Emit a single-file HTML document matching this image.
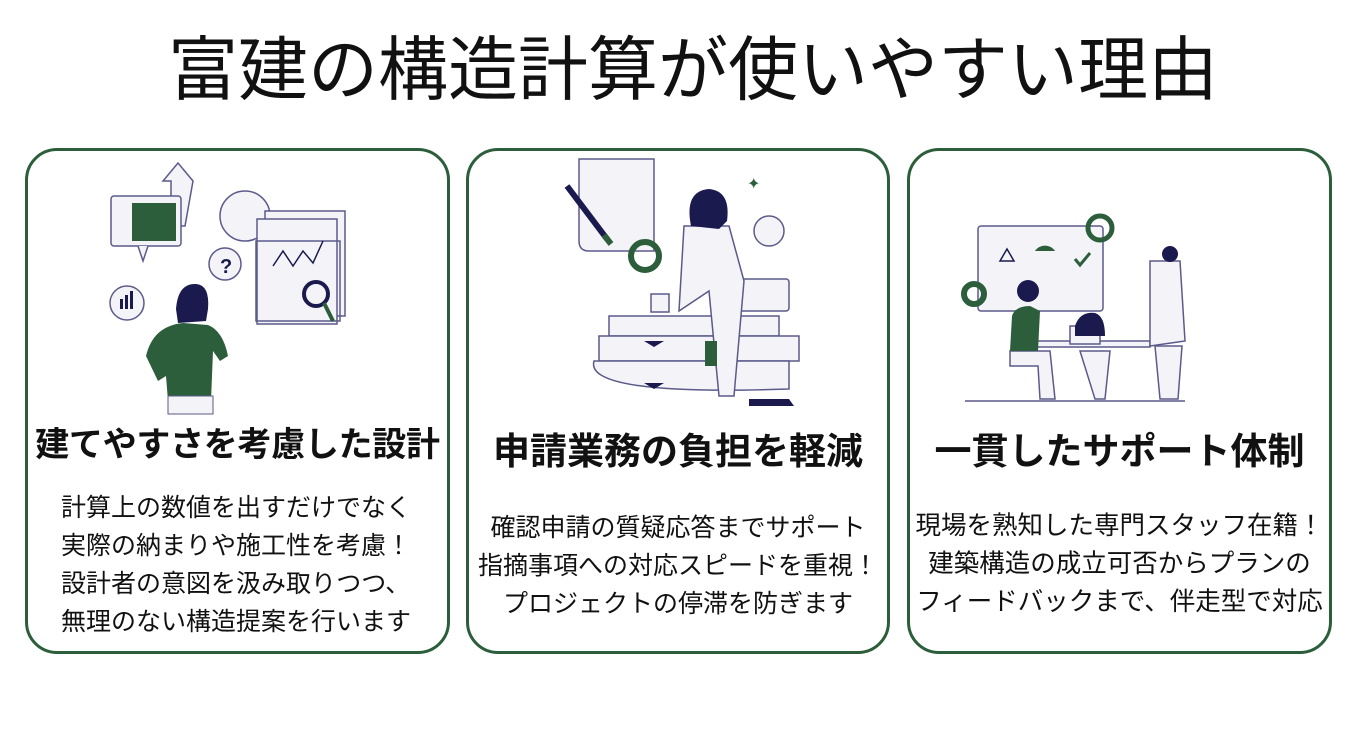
<!DOCTYPE html>
<html><head><meta charset="utf-8"><style>
body{margin:0;width:1366px;height:733px;background:#fff;position:relative;overflow:hidden;font-family:"Liberation Sans","Noto Sans CJK JP",sans-serif;color:#111}
.t{position:absolute;left:10px;width:1366px;top:28px;text-align:center;font-size:70px;line-height:84px}
.c{position:absolute;top:148px;height:500px;border:3px solid #2c5e3b;border-radius:32px;box-sizing:content-box}
.h{position:absolute;left:0;right:0;text-align:center;font-weight:bold;white-space:nowrap}
.b{position:absolute;left:0;right:0;font-size:25px;line-height:38px;white-space:nowrap}
svg{position:absolute;left:0;top:0}
</style></head><body>
<div class="t">富建の構造計算が使いやすい理由</div>

<div class="c" style="left:25px;width:419px">
<svg width="419" height="270" viewBox="0 0 419 270">
<g stroke="#5b5a8a" stroke-width="1.5" fill="#f4f4f8">
<path d="M143 75 L143 30 L135 30 L150 12 L165 30 L157 75Z"/>
<rect x="83" y="45" width="70" height="50" rx="3"/>
<path d="M110 95 L115 110 L120 95"/>
<circle cx="217" cy="65" r="25"/>
<rect x="237" y="60" width="80" height="105"/>
<rect x="229" y="68" width="80" height="105"/>
<circle cx="99" cy="152" r="17"/>
<circle cx="197" cy="113" r="16"/>
<rect x="228" y="90" width="84" height="80" fill="none"/>
</g>
<rect x="104" y="52" width="44" height="38" fill="#2c5e3b"/>
<text x="192" y="122" font-size="20" font-weight="bold" fill="#1a1a4e">?</text>
<polyline points="245,115 255,100 265,115 275,100 285,112 295,90" stroke="#1a1a4e" fill="none" stroke-width="1.5"/>
<circle cx="288" cy="143" r="12" fill="none" stroke="#1a1a4e" stroke-width="4"/>
<line x1="296" y1="152" x2="305" y2="170" stroke="#2c5e3b" stroke-width="4"/>
<rect x="92" y="148" width="3" height="10" fill="#1a1a4e"/><rect x="97" y="144" width="3" height="14" fill="#1a1a4e"/><rect x="102" y="140" width="3" height="18" fill="#1a1a4e"/>
<path d="M148 158 Q150 132 168 133 Q182 134 180 158 L178 170 L150 172Z" fill="#1a1a4e"/>
<path d="M118 205 Q125 175 155 172 L180 174 Q195 180 200 205 L192 210 L185 200 L183 250 L140 250 L138 225 L130 230 Z" fill="#2c5e3b"/>
<rect x="140" y="245" width="45" height="18" fill="#f4f4f8" stroke="#5b5a8a"/>
</svg>
<div class="h" style="top:266px;font-size:34px;letter-spacing:-0.3px">建てやすさを考慮した設計</div>
<div class="b" style="left:33px;top:338px">計算上の数値を出すだけでなく<br>実際の納まりや施工性を考慮！<br>設計者の意図を汲み取りつつ、<br>無理のない構造提案を行います</div>
</div>

<div class="c" style="left:466px;width:418px">
<svg width="418" height="270" viewBox="0 0 418 270">
<g stroke="#5b5a8a" stroke-width="1.5" fill="#f4f4f8">
<path d="M110 8 L185 8 L185 100 L120 100 Q110 100 110 90Z"/>
<path d="M140 165 L310 165 L310 185 L140 185Z"/>
<path d="M130 185 L330 185 L330 210 L130 210Z"/>
<path d="M125 210 L320 210 L320 238 Q115 245 125 210Z"/>
<rect x="270" y="128" width="50" height="32" rx="3"/>
<path d="M215 75 L260 75 L275 130 L265 245 L250 245 L240 140 L210 160Z"/>
<circle cx="300" cy="80" r="15"/>
<rect x="182" y="143" width="18" height="18"/>
</g>
<line x1="98" y1="35" x2="138" y2="88" stroke="#1a1a4e" stroke-width="6"/>
<line x1="135" y1="84" x2="142" y2="93" stroke="#2c5e3b" stroke-width="6"/>
<path d="M222 75 Q215 40 240 38 Q262 40 258 70 L250 78 Z" fill="#1a1a4e"/>
<circle cx="176" cy="105" r="14" fill="none" stroke="#2c5e3b" stroke-width="6"/>
<rect x="236" y="190" width="12" height="25" fill="#2c5e3b"/>
<path d="M175 190 L195 190 L185 196Z M175 232 L195 232 L185 238Z" fill="#1a1a4e"/>
<path d="M280 248 L320 248 L325 255 L280 255Z" fill="#1a1a4e"/>
<text x="278" y="38" font-size="16" fill="#2c5e3b">✦</text>
</svg>
<div class="h" style="top:270px;font-size:37px">申請業務の負担を軽減</div>
<div class="b" style="top:358px;text-align:center">確認申請の質疑応答までサポート<br>指摘事項への対応スピードを重視！<br>プロジェクトの停滞を防ぎます</div>
</div>

<div class="c" style="left:907px;width:419px">
<svg width="419" height="270" viewBox="0 0 419 270">
<g stroke="#5b5a8a" stroke-width="1.5" fill="#f4f4f8">
<rect x="68" y="75" width="125" height="85" rx="3"/>
<rect x="120" y="190" width="120" height="6"/>
<path d="M240 110 L270 110 L275 190 L240 195Z"/>
<path d="M245 195 L272 195 L268 248 L250 248Z"/>
<path d="M100 200 L140 200 L145 248 L130 248 L128 215 L100 215Z"/>
<path d="M170 200 L200 200 L195 248 L185 248Z"/>
<rect x="160" y="175" width="30" height="18"/>
</g>
<circle cx="190" cy="77" r="12" fill="none" stroke="#2c5e3b" stroke-width="5"/>
<circle cx="64" cy="143" r="10" fill="none" stroke="#2c5e3b" stroke-width="6"/>
<path d="M102 165 Q105 155 120 155 L130 160 L128 200 L100 200Z" fill="#2c5e3b"/>
<circle cx="118" cy="140" r="11" fill="#1a1a4e"/>
<path d="M165 175 Q170 160 185 162 Q195 165 195 185 L165 185Z" fill="#1a1a4e"/>
<circle cx="260" cy="103" r="8" fill="#1a1a4e"/>
<line x1="55" y1="250" x2="275" y2="250" stroke="#5b5a8a" stroke-width="1.5"/>
<path d="M90 110 L97 98 L104 110Z" fill="none" stroke="#1a1a4e" stroke-width="1.5"/>
<path d="M165 108 L170 114 L180 102" fill="none" stroke="#2c5e3b" stroke-width="3"/>
<path d="M125 100 A12 12 0 0 1 145 100Z" fill="#2c5e3b"/>
</svg>
<div class="h" style="top:270px;font-size:37px">一貫したサポート体制</div>
<div class="b" style="top:356px;text-align:center;font-size:25.5px">現場を熟知した専門スタッフ在籍！<br>建築構造の成立可否からプランの<br>フィードバックまで、伴走型で対応</div>
</div>
</body></html>
